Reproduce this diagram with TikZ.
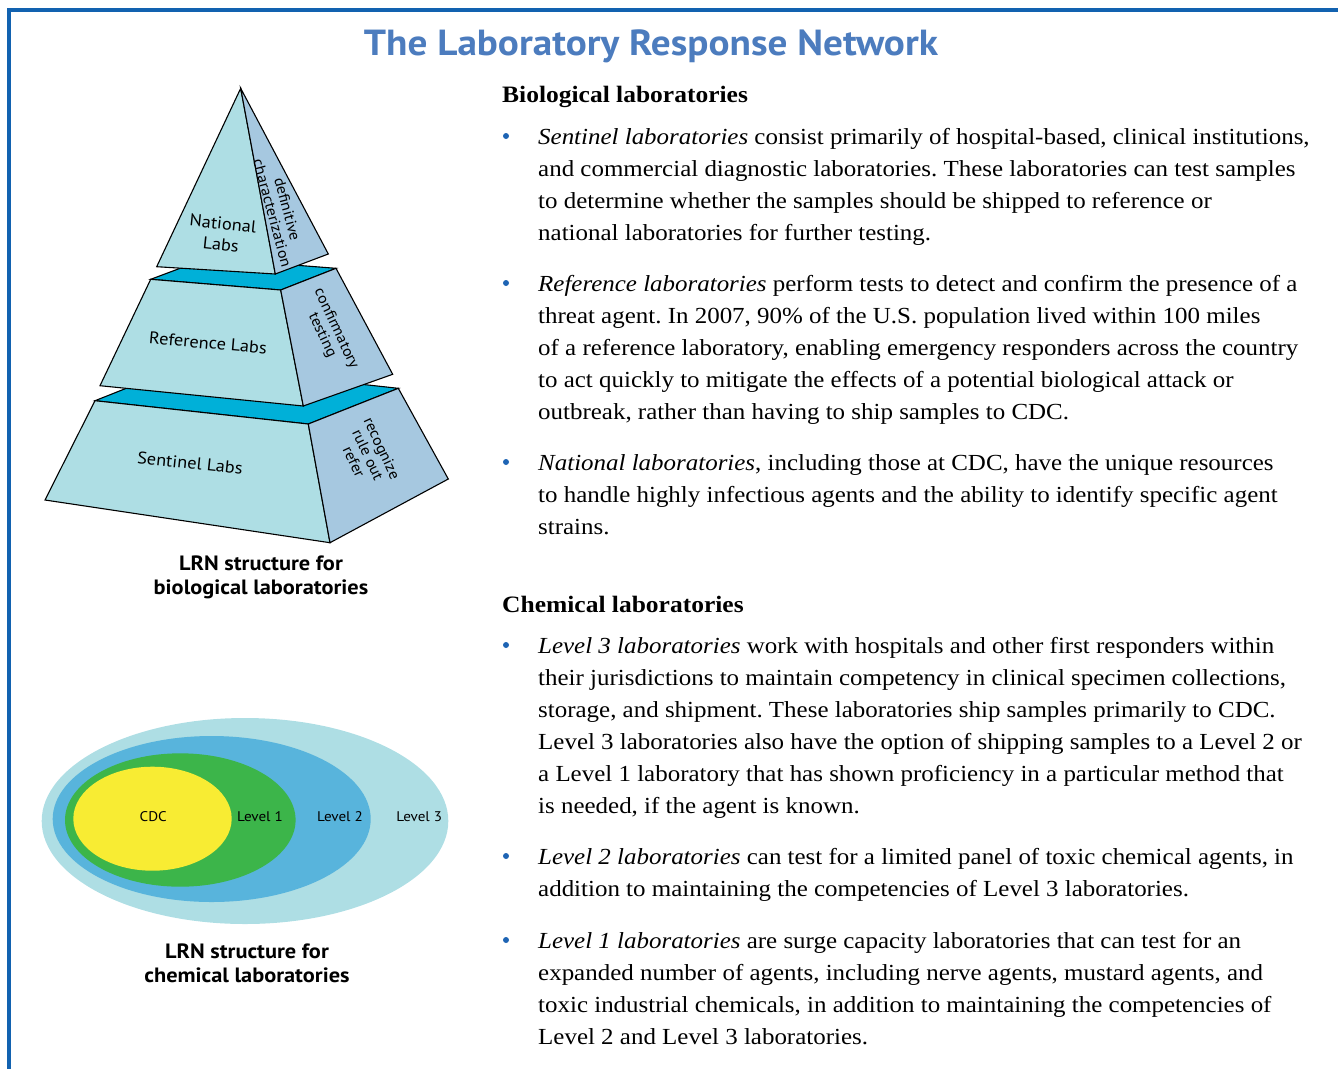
\documentclass[tikz,border=0pt]{standalone}
\usepackage{fontspec}
\setmainfont{Liberation Serif}[FakeStretch=1.085]
\newfontfamily\sansf{PT Sans}[FakeStretch=1.08]
\definecolor{framec}{RGB}{18,98,176}
\definecolor{titlec}{RGB}{76,124,190}
\definecolor{bulc}{RGB}{30,100,180}
\definecolor{frontc}{RGB}{174,222,228}
\definecolor{sidec}{RGB}{166,200,224}
\definecolor{topc}{RGB}{0,176,216}
\definecolor{lvthree}{RGB}{174,222,228}
\definecolor{lvtwo}{RGB}{88,180,220}
\definecolor{lvone}{RGB}{60,181,74}
\definecolor{cdcc}{RGB}{248,236,51}
\tikzset{
  face/.style={draw=black, line width=1.1pt, line join=miter},
  plabel/.style={font=\sansf\fontsize{17}{21}\selectfont, align=center, inner sep=0},
  slabel/.style={font=\sansf\fontsize{15}{15.5}\selectfont, align=center, inner sep=0},
  elabel/.style={font=\sansf\fontsize{14}{16}\selectfont, inner sep=0},
  caption/.style={font=\sansf\bfseries\fontsize{20.7}{24}\selectfont, align=center, inner sep=0},
  body/.style={anchor=base west, inner sep=0, font=\fontsize{23}{25}\selectfont},
  heading/.style={anchor=base west, inner sep=0, font=\bfseries\fontsize{23.5}{25}\selectfont},
  bul/.style={circle, fill=bulc, inner sep=0, minimum size=6pt},
}
\frenchspacing
\begin{document}
\frenchspacing
\begin{tikzpicture}[x=1pt,y=-1pt]
\useasboundingbox (0,0) rectangle (1338,1069);
% frame
\draw[framec, line width=4pt] (1338,10) -- (8.7,10) -- (8.7,1069);
% title
\node[font=\sansf\bfseries\fontsize{36.3}{38}\selectfont, text=titlec, inner sep=0] (title) at (651,46) {The Laboratory Response Network};

% ---- pyramid: bottom tier
\filldraw[face, fill=topc] (95,400.7) -- (185,365) -- (398.3,388.3) -- (308.3,424) -- cycle;
\filldraw[face, fill=frontc] (95,400.7) -- (308.3,424) -- (330,542.7) -- (45,500) -- cycle;
\filldraw[face, fill=sidec] (308.3,424) -- (398.3,388.3) -- (448.3,479) -- (330,542.7) -- cycle;
% middle tier
\filldraw[face, fill=topc] (150.7,279.3) -- (206.7,258.3) -- (336,268.3) -- (280.7,290) -- cycle;
\filldraw[face, fill=frontc] (150.7,279.3) -- (280.7,290) -- (303.3,406) -- (100,385.7) -- cycle;
\filldraw[face, fill=sidec] (280.7,290) -- (336,268.3) -- (392.7,374.3) -- (303.3,406) -- cycle;
% top
\filldraw[face, fill=frontc] (240.7,88.3) -- (275.3,274) -- (156.7,266.7) -- cycle;
\filldraw[face, fill=sidec] (240.7,88.3) -- (328.3,254) -- (275.3,274) -- cycle;

\node[plabel, rotate=-6] (natl) at (222,234) {National\\Labs};
\node[plabel, rotate=-5] (refl) at (208,343) {Reference Labs};
\node[plabel, rotate=-6] (sentl) at (190,463) {Sentinel Labs};
\node[slabel, rotate=-75] (defc) at (280,211) {definitive\\characterization};
\node[slabel, rotate=-65] (conf) at (329,332) {confirmatory\\testing};
\node[slabel, rotate=-65] (recog) at (368,455) {recognize\\rule out\\refer};

\node[caption] (cap1) at (261,577) {LRN structure for\\biological laboratories};

% ---- ellipses
\fill[lvthree] (245,821) ellipse [x radius=203.3, y radius=103];
\fill[lvtwo] (211.7,819) ellipse [x radius=159, y radius=83];
\fill[lvone] (180.3,820) ellipse [x radius=115.3, y radius=66.7];
\fill[cdcc] (152.5,818.7) ellipse [x radius=79.2, y radius=52];
\node[elabel] (cdc) at (153.3,817) {CDC};
\node[elabel] (l1) at (260,817) {Level 1};
\node[elabel] (l2) at (340,817) {Level 2};
\node[elabel] (l3) at (419.3,817) {Level 3};

\node[caption] (cap2) at (247,963) {LRN structure for\\chemical laboratories};

% ---- text
\node[heading] (hbio) at (502,102) {Biological laboratories};
\node[bul] (bu1) at (506,136) {};
\node[body] (a1) at (538,144) {\textit{Sentinel laboratories} consist primarily of hospital-based, clinical institutions,};
\node[body] (a2) at (538,176) {and commercial diagnostic laboratories. These laboratories can test samples};
\node[body] (a3) at (538,208) {to determine whether the samples should be shipped to reference or};
\node[body] (a4) at (538,240) {national laboratories for further testing.};
\node[bul] (bu2) at (506,283) {};
\node[body] (b1) at (538,291) {\textit{Reference laboratories} perform tests to detect and confirm the presence of a};
\node[body] (b2) at (538,323) {threat agent. In 2007, 90\% of the U.S. population lived within 100 miles};
\node[body] (b3) at (538,355) {of a reference laboratory, enabling emergency responders across the country};
\node[body] (b4) at (538,387) {to act quickly to mitigate the effects of a potential biological attack or};
\node[body] (b5) at (538,419) {outbreak, rather than having to ship samples to CDC.};
\node[bul] (bu3) at (506,462) {};
\node[body] (c1) at (538,470) {\textit{National laboratories}, including those at CDC, have the unique resources};
\node[body] (c2) at (538,502) {to handle highly infectious agents and the ability to identify specific agent};
\node[body] (c3) at (538,534) {strains.};

\node[heading] (hchem) at (502,612) {Chemical laboratories};
\node[bul] (bu4) at (506,645) {};
\node[body] (d1) at (538,653) {\textit{Level 3 laboratories} work with hospitals and other first responders within};
\node[body] (d2) at (538,685) {their jurisdictions to maintain competency in clinical specimen collections,};
\node[body] (d3) at (538,717) {storage, and shipment. These laboratories ship samples primarily to CDC.};
\node[body] (d4) at (538,749) {Level 3 laboratories also have the option of shipping samples to a Level 2 or};
\node[body] (d5) at (538,781) {a Level 1 laboratory that has shown proficiency in a particular method that};
\node[body] (d6) at (538,813) {is needed, if the agent is known.};
\node[bul] (bu5) at (506,856) {};
\node[body] (e1) at (538,864) {\textit{Level 2 laboratories} can test for a limited panel of toxic chemical agents, in};
\node[body] (e2) at (538,896) {addition to maintaining the competencies of Level 3 laboratories.};
\node[bul] (bu6) at (506,940) {};
\node[body] (f1) at (538,948) {\textit{Level 1 laboratories} are surge capacity laboratories that can test for an};
\node[body] (f2) at (538,980) {expanded number of agents, including nerve agents, mustard agents, and};
\node[body] (f3) at (538,1012) {toxic industrial chemicals, in addition to maintaining the competencies of};
\node[body] (f4) at (538,1044) {Level 2 and Level 3 laboratories.};
\end{tikzpicture}
\end{document}
